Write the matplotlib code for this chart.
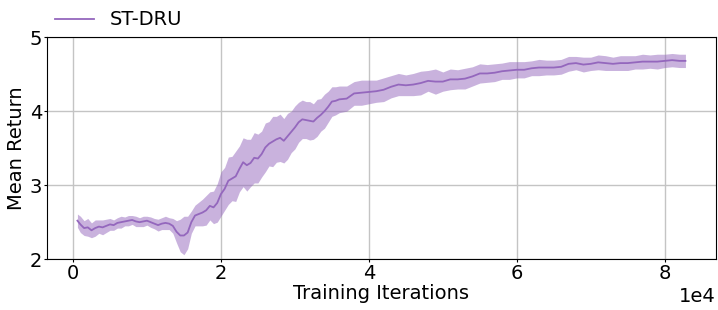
import numpy as np
import matplotlib
matplotlib.use("Agg")
import matplotlib.pyplot as plt

iterations = [600, 1000, 1500, 2000, 2500, 3000, 3500, 4000, 4500, 5000, 5500, 6000, 6500, 7000,
              7500, 8000, 8500, 9000, 9500, 10000, 10500, 11000, 11500, 12000, 12500, 13000,
              13500, 14000, 14500, 15000, 15500, 16000, 16500, 17000, 17500, 18000, 18500,
              19000, 19500, 20000, 20500, 21000, 21500, 22000, 22500, 23000, 23500, 24000,
              24500, 25000, 25500, 26000, 26500, 27000, 27500, 28000, 28500, 29000, 29500,
              30000, 30500, 31000, 31500, 32000, 32500, 33000, 33500, 34000, 34500, 35000,
              35500, 36000, 37000, 38000, 39000, 40000, 41000, 42000, 43000, 44000, 45000,
              46000, 47000, 48000, 49000, 50000, 51000, 52000, 53000, 54000, 55000, 56000,
              57000, 58000, 59000, 60000, 61000, 62000, 63000, 64000, 65000, 66000, 67000,
              68000, 69000, 70000, 71000, 72000, 73000, 74000, 75000, 76000, 77000, 78000,
              79000, 80000, 81000, 82000, 82800]

mean_return = [2.52, 2.47, 2.42, 2.43, 2.39, 2.42, 2.44, 2.43, 2.45, 2.47, 2.46, 2.49, 2.50, 2.51,
               2.52, 2.53, 2.51, 2.50, 2.51, 2.52, 2.50, 2.48, 2.46, 2.48, 2.49, 2.48,
               2.45, 2.37, 2.32, 2.32, 2.36, 2.50, 2.59, 2.61, 2.63, 2.66, 2.72,
               2.70, 2.76, 2.88, 2.95, 3.06, 3.09, 3.12, 3.22, 3.31, 3.27, 3.30,
               3.37, 3.36, 3.42, 3.51, 3.56, 3.59, 3.62, 3.64, 3.60, 3.66, 3.72,
               3.78, 3.85, 3.89, 3.88, 3.87, 3.86, 3.91, 3.95, 4.00, 4.06, 4.13,
               4.14, 4.16, 4.17, 4.24, 4.25, 4.26, 4.27, 4.29, 4.33, 4.36, 4.35,
               4.36, 4.38, 4.41, 4.40, 4.40, 4.43, 4.43, 4.44, 4.47, 4.51, 4.51,
               4.52, 4.54, 4.55, 4.56, 4.56, 4.58, 4.59, 4.59, 4.59, 4.60, 4.64,
               4.65, 4.63, 4.64, 4.66, 4.65, 4.64, 4.65, 4.65, 4.66, 4.67, 4.67,
               4.67, 4.68, 4.69, 4.68, 4.68]

std_return = [0.09, 0.11, 0.10, 0.12, 0.10, 0.11, 0.09, 0.10, 0.09, 0.08, 0.07, 0.07, 0.08, 0.06,
              0.07, 0.06, 0.07, 0.06, 0.07, 0.06, 0.07, 0.07, 0.08, 0.08, 0.09, 0.08,
              0.10, 0.15, 0.22, 0.26, 0.22, 0.15, 0.14, 0.16, 0.18, 0.20, 0.19,
              0.22, 0.26, 0.30, 0.29, 0.32, 0.30, 0.34, 0.31, 0.33, 0.35, 0.32,
              0.34, 0.33, 0.31, 0.33, 0.30, 0.34, 0.31, 0.32, 0.30, 0.31, 0.28,
              0.29, 0.27, 0.26, 0.25, 0.26, 0.24, 0.25, 0.22, 0.23, 0.21, 0.20,
              0.19, 0.18, 0.17, 0.16, 0.17, 0.16, 0.15, 0.16, 0.15, 0.15, 0.14,
              0.15, 0.16, 0.14, 0.17, 0.13, 0.14, 0.13, 0.14, 0.13, 0.13, 0.12,
              0.12, 0.11, 0.12, 0.11, 0.11, 0.10, 0.11, 0.10, 0.10, 0.10, 0.10,
              0.09, 0.10, 0.09, 0.10, 0.10, 0.09, 0.10, 0.10, 0.09, 0.10, 0.09,
              0.10, 0.09, 0.09, 0.09, 0.09]

label = "ST-DRU"
color = "#9467bd"

x = np.array(iterations)
m = np.array(mean_return)
s = np.array(std_return)

plt.rcParams['font.family'] = ['DejaVu Sans']
fig = plt.figure(figsize=(7.18, 3.10), dpi=100)
ax = fig.add_axes([0.0655, 0.164, 0.9315, 0.716])
ax.fill_between(x, m - s, m + s, color=color, alpha=0.5, linewidth=0)
ax.plot(x, m, color=color, linewidth=1.3, label=label)
ax.set_ylim(2, 5)
ax.set_yticks([2, 3, 4, 5])
ax.set_xticks([0, 20000, 40000, 60000, 80000])
ax.ticklabel_format(axis='x', style='sci', scilimits=(0, 0))
ax.grid(True, color='#c4c4c4', linewidth=1.0)
ax.set_axisbelow(True)
ax.tick_params(labelsize=14, length=2, pad=1.5)
ax.xaxis.get_offset_text().set_fontsize(14)
ax.set_xlabel("Training Iterations", fontsize=14, labelpad=1)
ax.set_ylabel("Mean Return", fontsize=14, labelpad=3)
ax.legend(loc='lower left', bbox_to_anchor=(0.0, 1.0), frameon=False, fontsize=14,
          borderaxespad=0.0)
fig.savefig("out.png", dpi=100)
